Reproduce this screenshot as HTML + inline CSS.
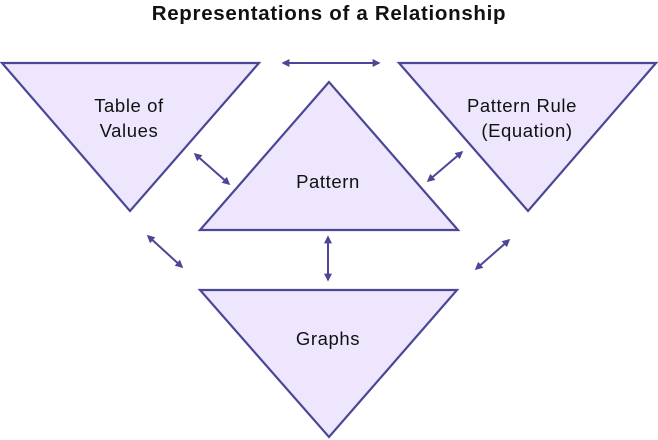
<!DOCTYPE html>
<html><head><style>
html,body{margin:0;padding:0;background:#fff;width:658px;height:440px;overflow:hidden}
svg{display:block}
text{font-family:"Liberation Sans",sans-serif;fill:#111}
</style></head><body>
<svg width="658" height="440" viewBox="0 0 658 440">
<defs>
<marker id="a" viewBox="0 0 10 10" refX="8" refY="5" markerWidth="4" markerHeight="4" orient="auto-start-reverse">
<path d="M0,0 L10,5 L0,10 z" fill="#4b4796"/>
</marker>
</defs>
<text x="329" y="20" text-anchor="middle" font-size="20.5" font-weight="bold" letter-spacing="0.7">Representations of a Relationship</text>
<g fill="#ede6fd" stroke="#4b4796" stroke-width="2.2" stroke-linejoin="miter">
<polygon points="2,63 259,63 130,211"/>
<polygon points="399,63 656,63 528,211"/>
<polygon points="329,82 200,230 458,230"/>
<polygon points="200,290 457,290 329,437"/>
</g>
<g stroke="#4b4796" stroke-width="2" marker-start="url(#a)" marker-end="url(#a)">
<line x1="283" y1="63" x2="379" y2="63"/>
<line x1="195" y1="154" x2="229" y2="184"/>
<line x1="462" y1="152" x2="428" y2="181"/>
<line x1="148" y1="236" x2="182" y2="267"/>
<line x1="509" y1="240" x2="476" y2="269"/>
<line x1="328" y1="237" x2="328" y2="280"/>
</g>
<g font-size="18.5" text-anchor="middle" letter-spacing="0.6">
<text x="129" y="112">Table of</text>
<text x="129" y="137">Values</text>
<text x="522" y="112">Pattern Rule</text>
<text x="527" y="137">(Equation)</text>
<text x="328" y="188">Pattern</text>
<text x="328" y="345">Graphs</text>
</g>
</svg>
</body></html>
